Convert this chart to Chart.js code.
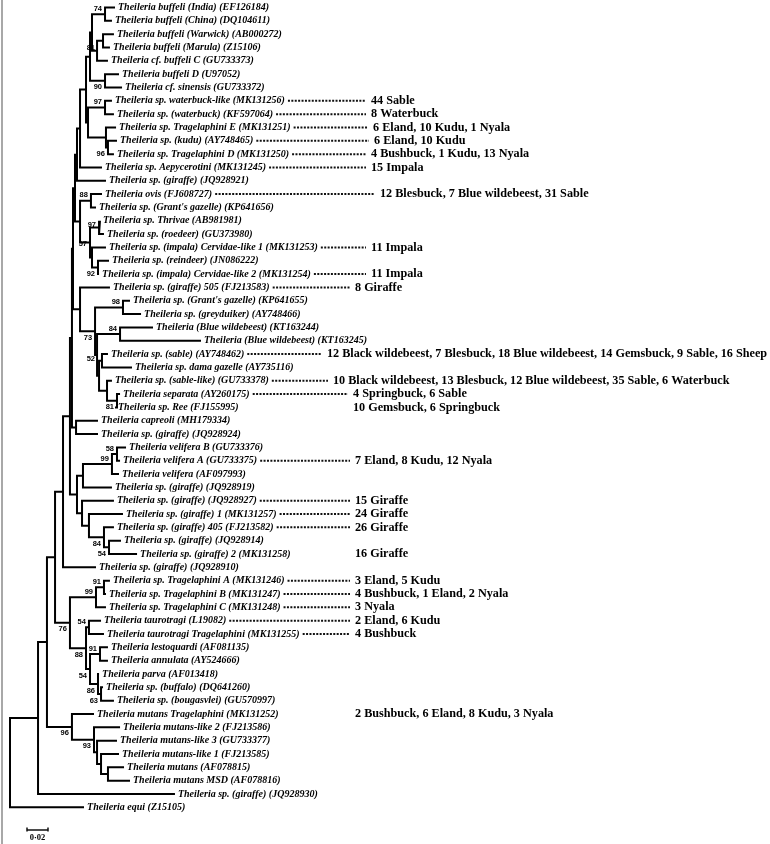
<!DOCTYPE html>
<html><head><meta charset="utf-8">
<script src="https://cdn.jsdelivr.net/npm/chart.js@4/dist/chart.umd.min.js"></script>
<style>html,body{margin:0;padding:0;background:#fff;}#wrap{position:relative;width:770px;height:844px;}canvas{display:block;}</style>
</head><body><div id="wrap"><canvas id="c" width="770" height="844"></canvas></div>
<script>
// ---------- DATA ----------
const leafNames = [
"Theileria buffeli (India) (EF126184)","Theileria buffeli (China) (DQ104611)","Theileria buffeli (Warwick) (AB000272)",
"Theileria buffeli (Marula) (Z15106)","Theileria cf. buffeli C (GU733373)","Theileria buffeli D (U97052)",
"Theileria cf. sinensis (GU733372)","Theileria sp. waterbuck-like (MK131256)","Theileria sp. (waterbuck) (KF597064)",
"Theileria sp. Tragelaphini E (MK131251)","Theileria sp. (kudu) (AY748465)","Theileria sp. Tragelaphini D (MK131250)",
"Theileria sp. Aepycerotini (MK131245)","Theileria sp. (giraffe) (JQ928921)","Theileria ovis (FJ608727)",
"Theileria sp. (Grant's gazelle) (KP641656)","Theileria sp. Thrivae (AB981981)","Theileria sp. (roedeer) (GU373980)",
"Theileria sp. (impala) Cervidae-like 1 (MK131253)","Theileria sp. (reindeer) (JN086222)","Theileria sp. (impala) Cervidae-like 2 (MK131254)",
"Theileria sp. (giraffe) 505 (FJ213583)","Theileria sp. (Grant's gazelle) (KP641655)","Theileria sp. (greyduiker) (AY748466)",
"Theileria (Blue wildebeest) (KT163244)","Theileria (Blue wildebeest) (KT163245)","Theileria sp. (sable) (AY748462)",
"Theileria sp. dama gazelle (AY735116)","Theileria sp. (sable-like) (GU733378)","Theileria separata (AY260175)",
"Theileria sp. Ree (FJ155995)","Theileria capreoli (MH179334)","Theileria sp. (giraffe) (JQ928924)",
"Theileria velifera B (GU733376)","Theileria velifera A (GU733375)","Theileria velifera (AF097993)",
"Theileria sp. (giraffe) (JQ928919)","Theileria sp. (giraffe) (JQ928927)","Theileria sp. (giraffe) 1 (MK131257)",
"Theileria sp. (giraffe) 405 (FJ213582)","Theileria sp. (giraffe) (JQ928914)","Theileria sp. (giraffe) 2 (MK131258)",
"Theileria sp. (giraffe) (JQ928910)","Theileria sp. Tragelaphini A (MK131246)","Theileria sp. Tragelaphini B (MK131247)",
"Theileria sp. Tragelaphini C (MK131248)","Theileria taurotragi (L19082)","Theileria taurotragi Tragelaphini (MK131255)",
"Theileria lestoquardi (AF081135)","Theileria annulata (AY524666)","Theileria parva (AF013418)",
"Theileria sp. (buffalo) (DQ641260)","Theileria sp. (bougasvlei) (GU570997)","Theileria mutans Tragelaphini (MK131252)",
"Theileria mutans-like 2 (FJ213586)","Theileria mutans-like 3 (GU733377)","Theileria mutans-like 1 (FJ213585)",
"Theileria mutans (AF078815)","Theileria mutans MSD (AF078816)","Theileria sp. (giraffe) (JQ928930)","Theileria equi (Z15105)"];

// distance from root (substitutions per site) of each tip
const leafDepth = [
0.1000,0.0971,0.0990,0.0952,0.0933,0.1038,0.1067,0.0971,0.0990,0.1010,
0.1019,0.0990,0.0876,0.0914,0.0876,0.0819,0.0857,0.0895,0.0914,0.0943,
0.0848,0.0952,0.1143,0.1248,0.1362,0.1819,0.0933,0.1162,0.0971,0.1048,
0.1000,0.0838,0.0838,0.1105,0.1048,0.1038,0.0971,0.0990,0.1076,0.0990,
0.1057,0.1210,0.0819,0.0952,0.0914,0.0914,0.0867,0.0895,0.0933,0.0933,
0.0848,0.0886,0.0990,0.0800,0.1048,0.1019,0.1038,0.1086,0.1143,0.1571,0.0705];

// internal nodes: id, children (numbers = leaf index 1-based), depth, bootstrap
const nodeIds = ["n1","n2","n3","n4","n5","n6","n7","n8","n9","n10","n11","n12","n13",
"n14","n15","n16","n17","n18","n19","n20","n21","n22","n23","n24","n27","n25","n26","n28",
"n29","n30","n31","n32","n33","n34","n35","n36","n37","s1","s2","s3","s4","s5",
"g1","g2","g3","g4","ga","gb","g7","g8","g9","s6","h1","h2","h3","h4","h5","s7","s8","root"];
const nodeChildren = [[1,2],[3,4],["n2",5],["n1","n3"],[6,7],["n4","n5"],[8,9],[11,12],[10,"n8"],["n7","n9"],["n6","n10"],["n11",13],["n12",14],
[15,16],[17,18],[20,21],[19,"n16"],["n15","n17"],["n14","n18"],[23,24],[25,26],[30,31],[29,"n22"],[27,28],["n24","n23"],["n21","n27"],["n20","n25"],[22,"n26"],
[32,33],[34,35],["n30",36],["n31",37],[41,42],[40,"n33"],[39,"n34"],[38,"n35"],["n32","n36"],["n13","n19"],["s1","n28"],["s2","n29"],["s3","n37"],["s4",43],
[44,45],["g1",46],[47,48],[49,50],[52,53],[51,"ga"],["g4","gb"],["g3","g7"],["g2","g8"],["s5","g9"],
[58,59],[57,"h1"],[56,"h2"],[55,"h3"],[54,"h4"],["s6","h5"],["s7",60],["s8",61]];
const nodeDepth = [0.0905,0.0886,0.0829,0.0781,0.0905,0.0762,0.0905,0.0933,0.0914,0.0743,0.0724,0.0667,0.0638,
0.0771,0.0848,0.0838,0.0781,0.0762,0.0667,0.1076,0.1048,0.1019,0.0924,0.0876,0.0848,0.0829,0.0810,0.0667,
0.0629,0.1019,0.0971,0.0695,0.0943,0.0895,0.0752,0.0686,0.0638,0.0619,0.0600,0.0590,0.0571,0.0505,
0.0895,0.0819,0.0752,0.0857,0.0867,0.0838,0.0762,0.0724,0.0571,0.0429,
0.0933,0.0867,0.0829,0.0800,0.0590,0.0352,0.0267,0.0000];
const nodeSupport = [74,null,81,null,90,null,97,96,null,null,null,null,null,
88,97,92,null,57,null,98,84,81,null,52,null,null,73,null,
null,58,99,null,54,84,null,null,null,null,null,null,null,null,
91,99,54,91,63,86,54,88,76,null,
null,null,null,93,96,null,null,null];

// host annotations
const annoLeaf = [8,9,10,11,12,13,15,19,21,22,27,29,30,31,35,38,39,40,42,44,45,46,47,48,54];
const annoText = ["44 Sable","8 Waterbuck","6 Eland, 10 Kudu, 1 Nyala","6 Eland, 10 Kudu","4 Bushbuck, 1 Kudu, 13 Nyala",
"15 Impala","12 Blesbuck, 7 Blue wildebeest, 31 Sable","11 Impala","11 Impala","8 Giraffe",
"12 Black wildebeest, 7 Blesbuck, 18 Blue wildebeest, 14 Gemsbuck, 9 Sable, 16 Sheep",
"10 Black wildebeest, 13 Blesbuck, 12 Blue wildebeest, 35 Sable, 6 Waterbuck",
"4 Springbuck, 6 Sable","10 Gemsbuck, 6 Springbuck","7 Eland, 8 Kudu, 12 Nyala",
"15 Giraffe","24 Giraffe","26 Giraffe","16 Giraffe","3 Eland, 5 Kudu","4 Bushbuck, 1 Eland, 2 Nyala",
"3 Nyala","2 Eland, 6 Kudu","4 Bushbuck","2 Bushbuck, 6 Eland, 8 Kudu, 3 Nyala"];
const scaleBarValue = 0.02;
const scaleBarLabel = "0\u00B702";

// ---------- LAYOUT (px) ----------
const annoX = [371,371,373,374,371,371,380,371,371,355,327,333,353,353,355,355,355,355,355,355,355,355,355,355,355];
const annoDots = [1,1,1,1,1,1,1,1,1,1,1,1,1,0,1,1,1,1,0,1,1,1,1,1,0];
const supportNudge = {n3:[1,-9], n24:[-4,4], n15:[0,3], n18:[0,-5]};
const PX_PER_UNIT = 1050, ROOT_PX = 10, ROW0 = 7.5, ROW_H = 13.33, W = 770, H = 844;

// ---------- TREE ----------
const nodes = {};
leafNames.forEach((n,i)=>{ nodes[String(i+1)] = {id:String(i+1), leaf:true, idx:i+1, depth:leafDepth[i], y:i+1}; });
nodeIds.forEach((id,k)=>{ nodes[id] = {id, leaf:false, kids:nodeChildren[k].map(String), depth:nodeDepth[k], sup:nodeSupport[k]}; });
nodeIds.forEach(id=>nodes[id].kids.forEach((c,j)=>{ nodes[c].parent=id; nodes[c].first=(j===0); }));
function yOf(id){ const n=nodes[id]; if(n.y!==undefined) return n.y; n.y=(yOf(n.kids[0])+yOf(n.kids[n.kids.length-1]))/2; return n.y; }
nodeIds.forEach(yOf);

const datasets = nodeIds.map(id=>{
  const n = nodes[id], a = nodes[n.kids[0]], b = nodes[n.kids[n.kids.length-1]];
  return {data:[{x:a.depth,y:a.y},{x:n.depth,y:a.y},{x:n.depth,y:b.y},{x:b.depth,y:b.y}],
    showLine:true, borderColor:'#000', borderWidth:2, pointRadius:0, tension:0, fill:false,
    borderJoinStyle:'miter', borderCapStyle:'butt'};
});

const xMin = -ROOT_PX/PX_PER_UNIT, xMax = (W-ROOT_PX)/PX_PER_UNIT;
const yMin = 1 - ROW0/ROW_H, yMax = 1 + (H-ROW0)/ROW_H;

const labelPlugin = {
  id:'labels',
  afterDatasetsDraw(chart){
    const ctx = chart.ctx, xs = chart.scales.x, ys = chart.scales.y;
    ctx.save();
    ctx.fillStyle = '#a8a8a8'; ctx.fillRect(1,0,2,H);
    ctx.fillStyle = '#000'; ctx.textBaseline = 'middle';
    ctx.font = 'italic bold 10px "Liberation Serif", "Times New Roman", serif';
    const ends = {};
    leafNames.forEach((name,i)=>{
      const x = xs.getPixelForValue(leafDepth[i]) + 3, y = ys.getPixelForValue(i+1);
      ctx.fillText(name, x, y);
      ends[i+1] = x + ctx.measureText(name).width;
    });
    ctx.strokeStyle = '#111'; ctx.lineWidth = 2; ctx.setLineDash([2,1.4]);
    annoLeaf.forEach((lf,k)=>{
      if(!annoDots[k]) return;
      const y = ys.getPixelForValue(lf);
      ctx.beginPath(); ctx.moveTo(ends[lf]+3, y); ctx.lineTo(annoX[k]-5, y); ctx.stroke();
    });
    ctx.setLineDash([]);
    ctx.font = 'bold 12.2px "Liberation Serif", "Times New Roman", serif';
    annoLeaf.forEach((lf,k)=>{ ctx.fillText(annoText[k], annoX[k], ys.getPixelForValue(lf)); });
    ctx.font = 'bold 7.5px "Liberation Sans", Arial, sans-serif'; ctx.textAlign = 'right';
    nodeIds.forEach(id=>{
      const n = nodes[id]; if(n.sup==null) return;
      const d = supportNudge[id] || [0,0];
      const x = xs.getPixelForValue(n.depth) - 3 + d[0];
      const y = ys.getPixelForValue(n.y) + (n.first ? -5.5 : 6.5) + d[1];
      ctx.fillText(String(n.sup), x, y);
    });
    const bx0 = 27, by = 830, bx1 = bx0 + (xs.getPixelForValue(scaleBarValue) - xs.getPixelForValue(0));
    ctx.lineWidth = 1.5; ctx.beginPath();
    ctx.moveTo(bx0, by); ctx.lineTo(bx1, by);
    ctx.moveTo(bx0, by-2.5); ctx.lineTo(bx0, by+1.5);
    ctx.moveTo(bx1, by-2.5); ctx.lineTo(bx1, by+1.5);
    ctx.stroke();
    ctx.textAlign = 'center'; ctx.font = 'bold 8.5px "Liberation Serif", serif';
    ctx.fillText(scaleBarLabel, (bx0+bx1)/2, by+8);
    ctx.restore();
  }
};

new Chart(document.getElementById('c'), {
  type:'scatter',
  data:{datasets},
  options:{
    responsive:false, animation:false, devicePixelRatio:1,
    layout:{padding:0},
    plugins:{legend:{display:false}, tooltip:{enabled:false}},
    scales:{
      x:{type:'linear', min:xMin, max:xMax, display:false},
      y:{type:'linear', min:yMin, max:yMax, reverse:true, display:false}
    }
  },
  plugins:[labelPlugin]
});
</script></body></html>
